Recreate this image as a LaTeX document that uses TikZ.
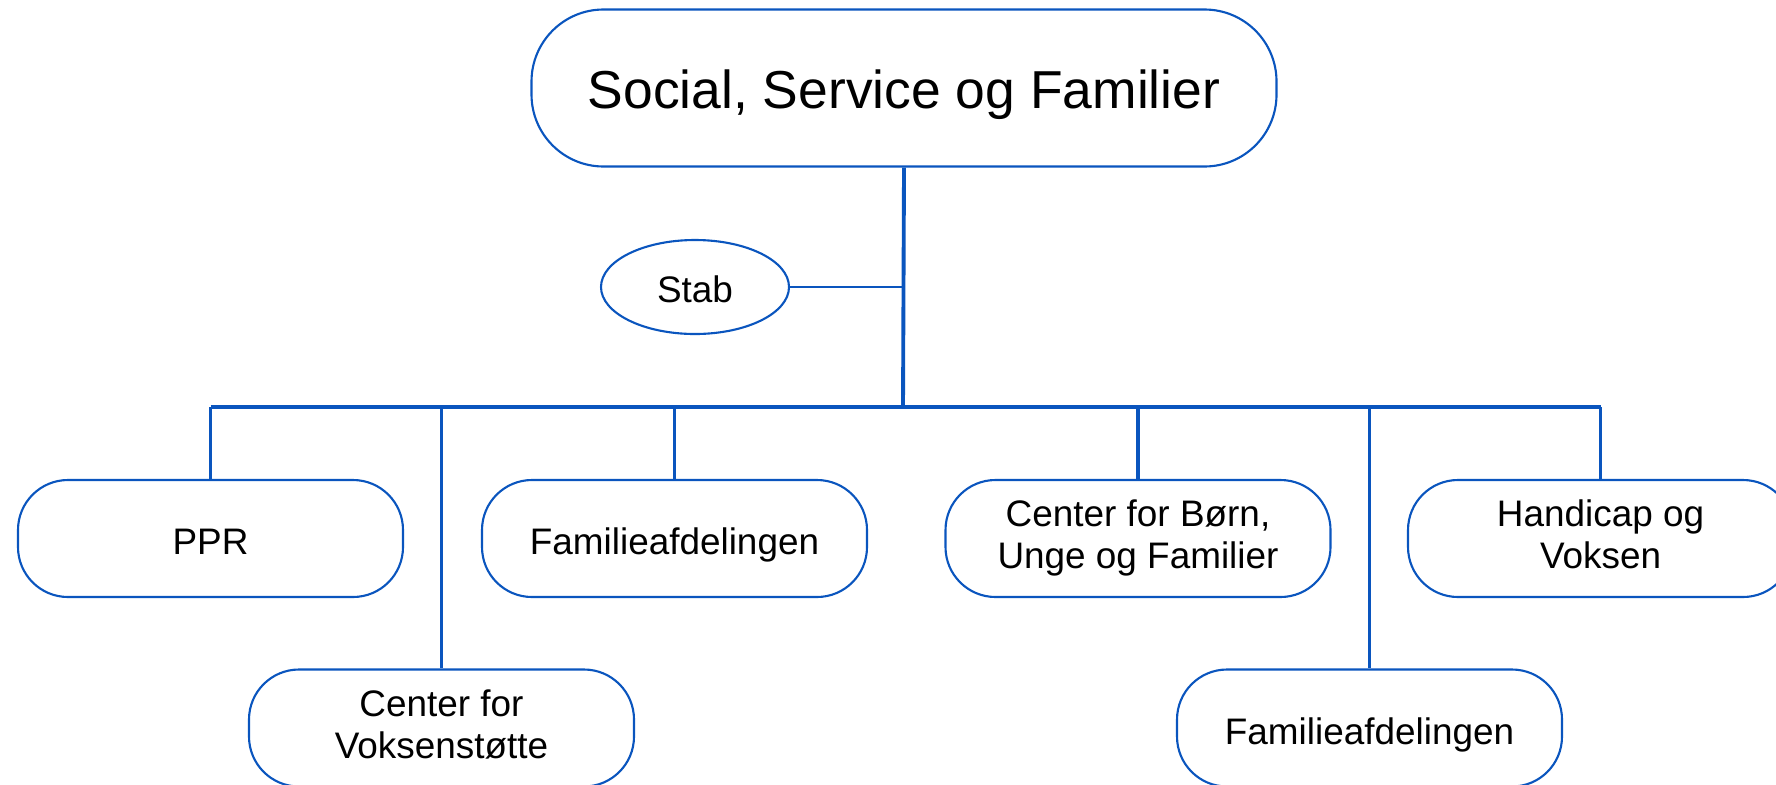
\documentclass[tikz,border=0pt]{standalone}
\usepackage{fontspec}
\setmainfont{Liberation Sans}
\usepackage{xcolor}
\definecolor{orgblue}{RGB}{10,85,190}
\usetikzlibrary{shapes.geometric}

\begin{document}
\begin{tikzpicture}[xscale=1, yscale=1,
        unit/.style={draw=orgblue, line width=0.6pt, rounded corners=0.5cm,
                     minimum width=3.85cm, minimum height=1.17cm, align=center,
                     font=\fontsize{10.5}{12}\selectfont,
                     execute at begin node={\rule[-2.3pt]{0pt}{13.9pt}}},
        bus/.style={draw=orgblue, line width=1.1pt},
        drop/.style={draw=orgblue, line width=0.6pt}]
        \useasboundingbox (0,0) rectangle (17.76,7.84);

        % Draw the top unit
        \node [unit, rounded corners=0.72cm, minimum width=7.45cm, minimum height=1.57cm,
               font=\fontsize{15.2}{18}\selectfont,
               execute at begin node={\rule{0pt}{14.6pt}}] (top) at (9.04,6.96) {Social, Service og Familier};

        % Draw the staff
        \node [draw=orgblue, line width=0.6pt, ellipse, minimum width=1.88cm, minimum height=0.94cm,
               inner sep=0pt, font=\fontsize{10.5}{12}\selectfont] (stab) at (6.95,4.97) {\rule{0pt}{9pt}Stab};

        % Draw the upper row of units
        \node [unit] (ppr)   at (2.105,2.455) {PPR};
        \node [unit] (famA)  at (6.745,2.455) {Familieafdelingen};
        \node [unit] (boern) at (11.38,2.455) {Center for Børn,\\Unge og Familier};
        \node [unit] (hand)  at (16.005,2.455) {Handicap og\\Voksen};

        % Draw the lower row of units
        \node [unit] (voksen) at (4.415,0.56) {Center for\\Voksenstøtte};
        \node [unit] (famB)   at (13.695,0.56) {Familieafdelingen};

        % Draw the trunk and the bus
        \coordinate (bus) at (9.03,3.77);
        \draw [bus] (top.south) -- (bus);
        \draw [drop] (stab.east) -- (stab.east -| bus);
        \draw [bus] (ppr |- bus) -- (hand |- bus);

        % Draw the drops to the units
        \draw [bus] (ppr |- bus) -- (ppr.north);
        \draw [bus] (famA |- bus) -- (famA.north);
        \draw [bus] (boern |- bus) -- (boern.north);
        \draw [bus] (hand |- bus) -- (hand.north);
        \draw [drop] (voksen |- bus) -- (voksen.north);
        \draw [drop] (famB |- bus) -- (famB.north);
    \end{tikzpicture}
\end{document}
